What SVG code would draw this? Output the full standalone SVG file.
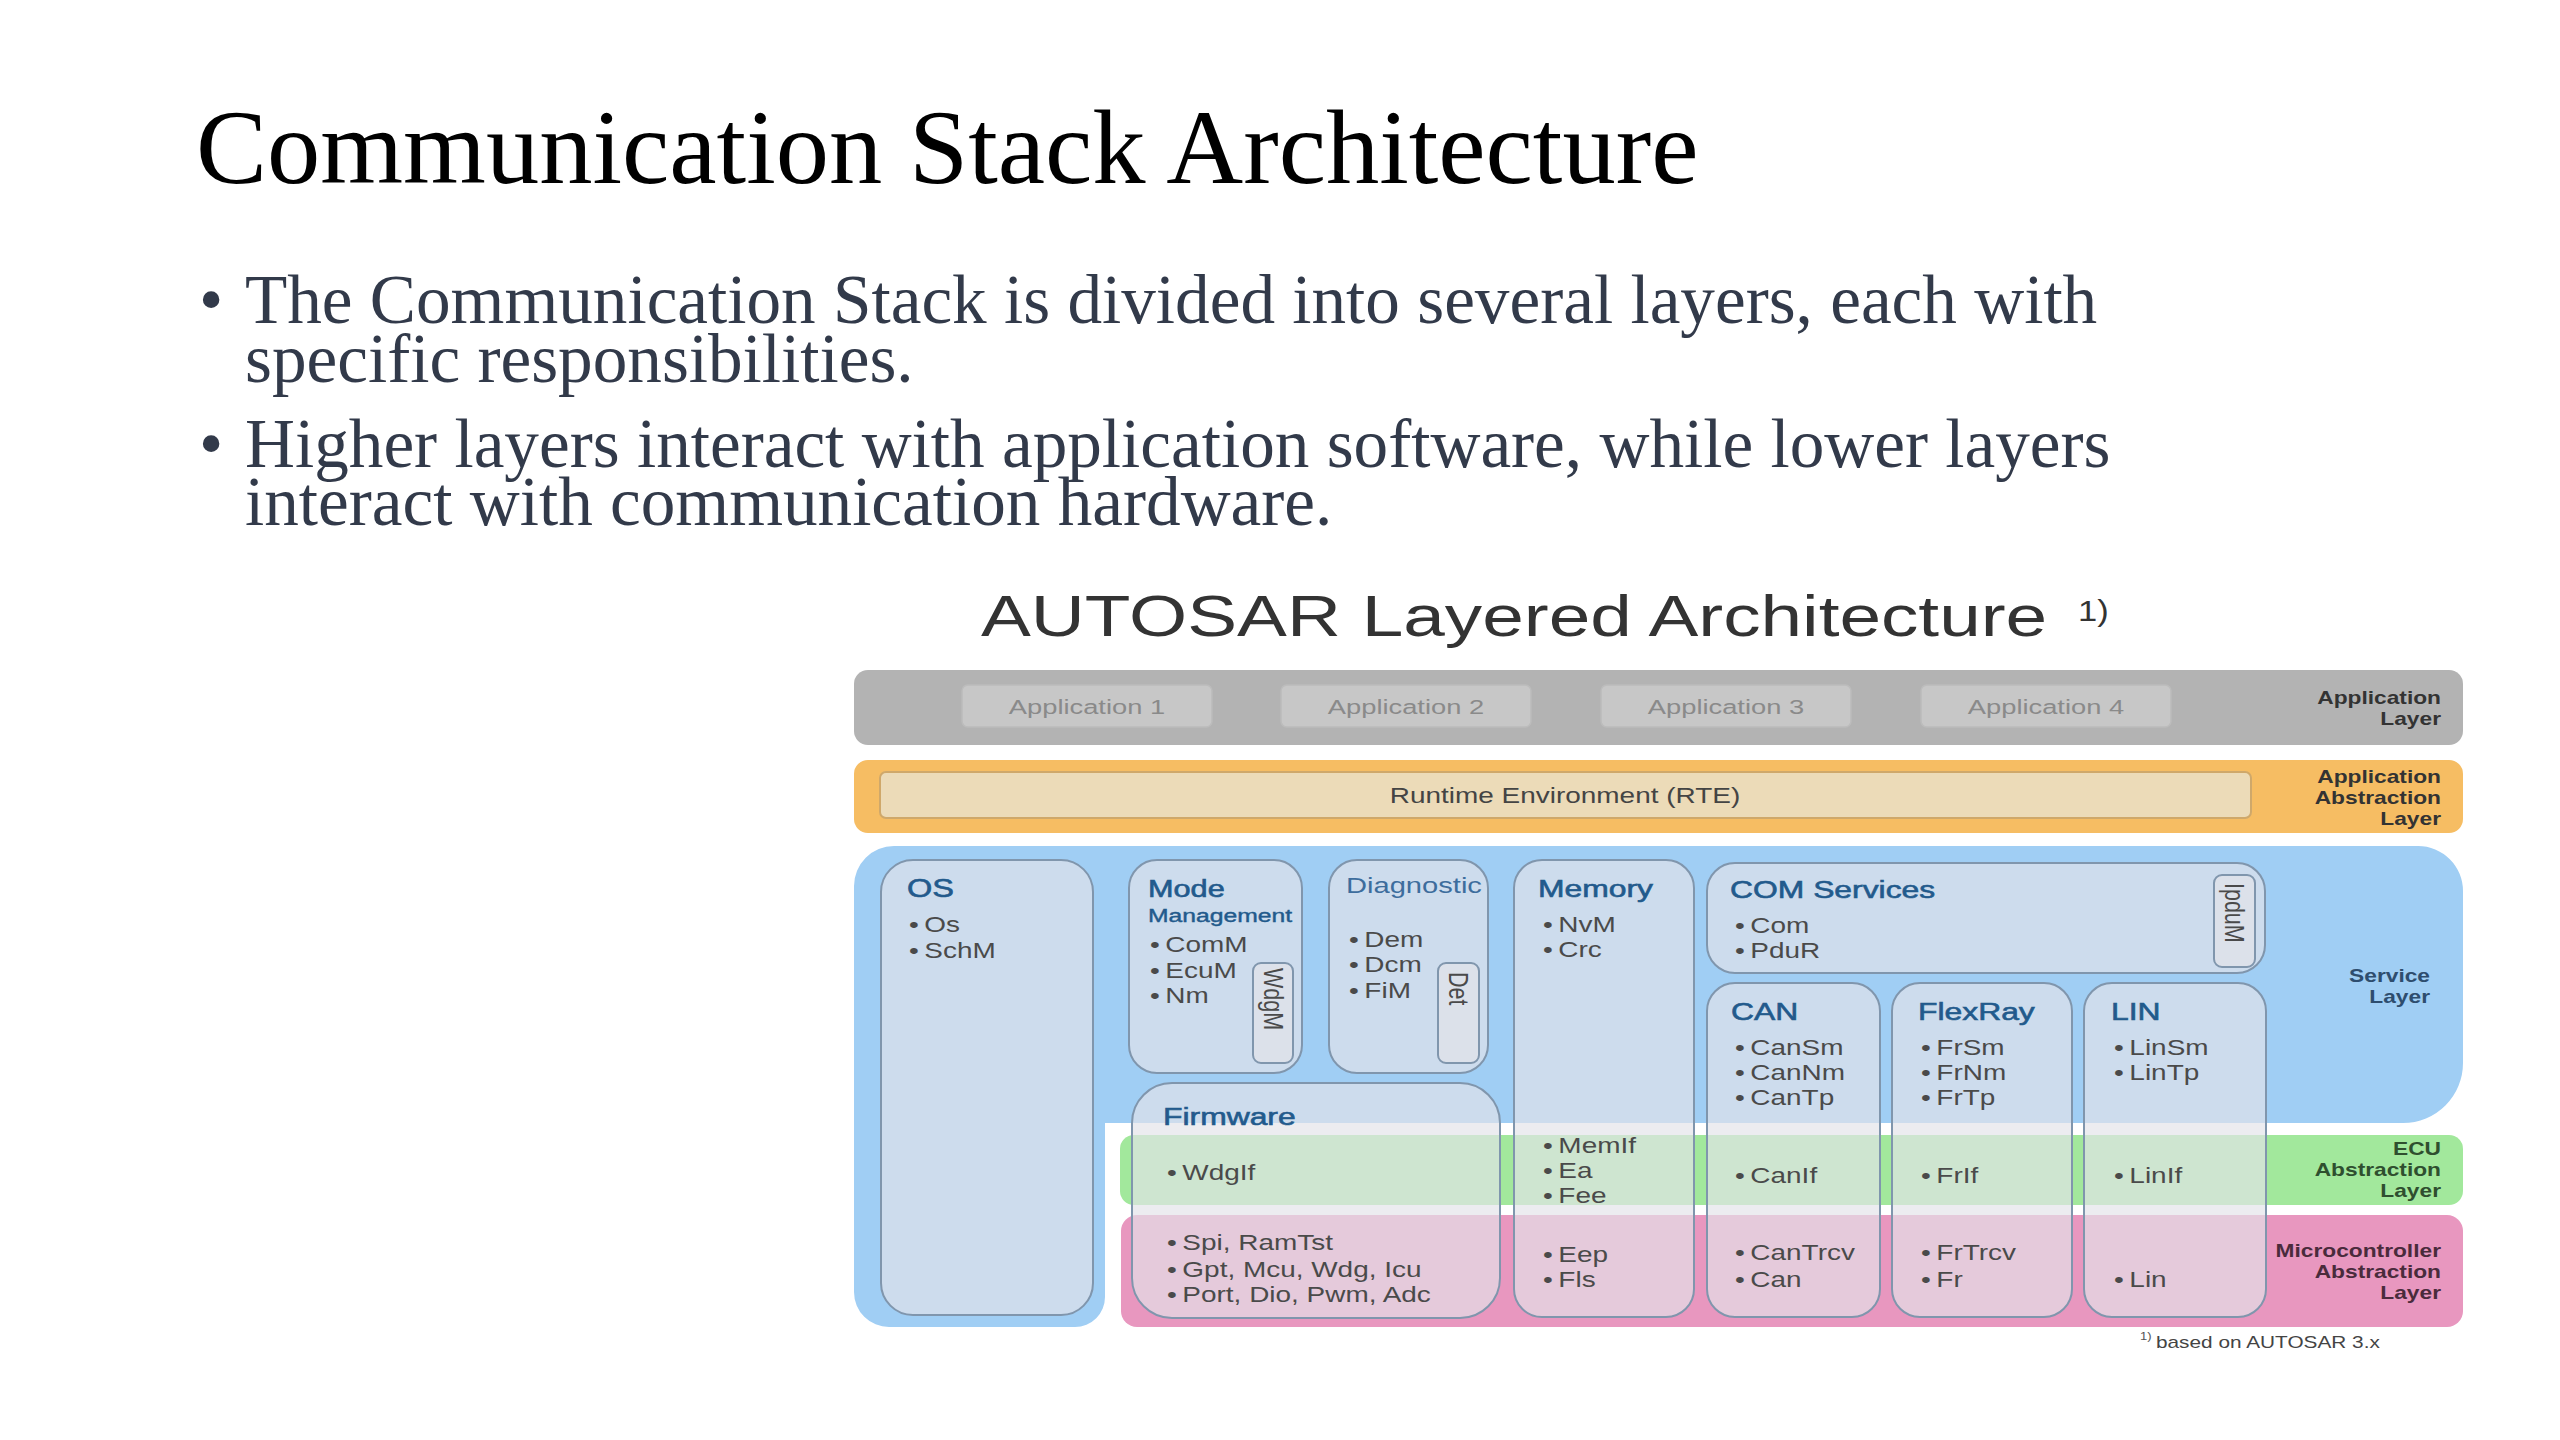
<svg xmlns="http://www.w3.org/2000/svg" width="2560" height="1440" viewBox="0 0 2560 1440">
<style>
.serif{font-family:'Liberation Serif','Times New Roman',serif}
.sans{font-family:'Liberation Sans',Arial,Helvetica,sans-serif}
.bt{font-size:69.2px;fill:#323a4a}
.h{font-size:24.5px;fill:#225a8c;stroke:#225a8c;stroke-width:0.6px}
.i{font-size:21.5px;fill:#4a4a4a}
.lbl{font-size:17.5px;font-weight:bold;text-anchor:end}
.box{fill:#e3e3e9;fill-opacity:.68;stroke:#8096ad;stroke-width:2}
.app{fill:#c7c7c7;stroke:#bcbcbc;stroke-width:1.5}
.appt{font-size:21px;fill:#8a8a8a;text-anchor:middle}
</style>
<rect width="2560" height="1440" fill="#ffffff"/>

<g id="slide-title">
<text class="serif" x="196" y="183" font-size="106.5" fill="#000">Communication Stack Architecture</text>
</g>
<g id="bullets">
<text class="serif bt" x="199" y="323">•</text>
<text class="serif bt" x="245" y="323">The Communication Stack is divided into several layers, each with</text>
<text class="serif bt" x="245" y="382">specific responsibilities.</text>
<text class="serif bt" x="199" y="467">•</text>
<text class="serif bt" x="245" y="467">Higher layers interact with application software, while lower layers</text>
<text class="serif bt" x="245" y="525">interact with communication hardware.</text>
</g>

<g id="diagram-title">
<text class="sans" transform="translate(981,636) scale(1.3,1)" font-size="57.5" fill="#333">AUTOSAR Layered Architecture</text>
<text class="sans" transform="translate(2078,621) scale(1.15,1)" font-size="30" fill="#333">1)</text>
</g>

<g id="layer-application">
<rect x="854" y="670" width="1609" height="75" rx="14" fill="#b3b3b3"/>
<g id="app1"><rect class="app" x="962" y="685" width="250" height="42" rx="6"/><text class="sans appt" transform="translate(1087,714) scale(1.3,1)">Application 1</text></g>
<g id="app2"><rect class="app" x="1281" y="685" width="250" height="42" rx="6"/><text class="sans appt" transform="translate(1406,714) scale(1.3,1)">Application 2</text></g>
<g id="app3"><rect class="app" x="1601" y="685" width="250" height="42" rx="6"/><text class="sans appt" transform="translate(1726,714) scale(1.3,1)">Application 3</text></g>
<g id="app4"><rect class="app" x="1921" y="685" width="250" height="42" rx="6"/><text class="sans appt" transform="translate(2046,714) scale(1.3,1)">Application 4</text></g>
<text class="sans lbl" fill="#333" transform="translate(2441,704) scale(1.3,1)"><tspan x="0" y="0">Application</tspan><tspan x="0" y="21">Layer</tspan></text>
</g>

<g id="layer-rte">
<rect x="854" y="760" width="1609" height="73" rx="14" fill="#f6bd63"/>
<g id="rte"><rect x="880" y="772" width="1371" height="46" rx="6" fill="#ecdbb8" stroke="#cfa86a" stroke-width="2"/>
<text class="sans" transform="translate(1565,803) scale(1.3,1)" font-size="21.5" fill="#444" text-anchor="middle">Runtime Environment (RTE)</text></g>
<text class="sans lbl" fill="#333" transform="translate(2441,783) scale(1.3,1)"><tspan x="0" y="0">Application</tspan><tspan x="0" y="21">Abstraction</tspan><tspan x="0" y="42">Layer</tspan></text>
</g>

<g id="layer-service">
<path d="M894 846 H2418 A45 45 0 0 1 2463 891 V1063 A60 60 0 0 1 2403 1123 H1105 V1297 A30 30 0 0 1 1075 1327 H889 A35 35 0 0 1 854 1292 V886 A40 40 0 0 1 894 846 Z" fill="#a0cef4"/>
<text class="sans lbl" fill="#2e4d6e" transform="translate(2430,982) scale(1.3,1)"><tspan x="0" y="0">Service</tspan><tspan x="0" y="21">Layer</tspan></text>
</g>
<g id="layer-ecu">
<rect x="1120" y="1135" width="1343" height="70" rx="14" fill="#a2e89c"/>
<text class="sans lbl" fill="#2f4f2f" transform="translate(2441,1155) scale(1.3,1)"><tspan x="0" y="0">ECU</tspan><tspan x="0" y="21">Abstraction</tspan><tspan x="0" y="42">Layer</tspan></text>
</g>
<g id="layer-mcal">
<rect x="1121" y="1215" width="1342" height="112" rx="16" fill="#e897bf"/>
<text class="sans lbl" fill="#4a2b3c" transform="translate(2441,1257) scale(1.3,1)"><tspan x="0" y="0">Microcontroller</tspan><tspan x="0" y="21">Abstraction</tspan><tspan x="0" y="42">Layer</tspan></text>
</g>

<g id="connectors"></g>

<g id="os">
<rect class="box" x="881" y="860" width="212" height="455" rx="32"/>
<text class="sans h" transform="translate(907,897) scale(1.3,1)" style="font-size:25px">OS</text>
<text class="sans i" transform="translate(909,932) scale(1.3,1)"><tspan x="0" y="0">•&#x2009;Os</tspan><tspan x="0" y="26">•&#x2009;SchM</tspan></text>
</g>

<g id="mode-management">
<rect class="box" x="1129" y="860" width="173" height="213" rx="28"/>
<text class="sans h" transform="translate(1148,897) scale(1.3,1)" style="font-size:23.6px">Mode</text>
<text class="sans h" transform="translate(1148,922) scale(1.3,1)" style="font-size:19px;stroke-width:0.4px">Management</text>
<text class="sans i" transform="translate(1150,952) scale(1.3,1)"><tspan x="0" y="0">•&#x2009;ComM</tspan><tspan x="0" y="26">•&#x2009;EcuM</tspan><tspan x="0" y="51">•&#x2009;Nm</tspan></text>
<g id="wdgm"><rect class="box" x="1253" y="963" width="40" height="100" rx="8"/>
<text class="sans i" transform="translate(1264,968) scale(1.3,1) rotate(90)">WdgM</text></g>
</g>

<g id="diagnostic">
<rect class="box" x="1329" y="860" width="159" height="213" rx="28"/>
<text class="sans h" transform="translate(1346,893) scale(1.3,1)" style="font-size:22.4px;fill:#3d6d9d;stroke:none">Diagnostic</text>
<text class="sans i" transform="translate(1349,947) scale(1.3,1)"><tspan x="0" y="0">•&#x2009;Dem</tspan><tspan x="0" y="25">•&#x2009;Dcm</tspan><tspan x="0" y="51">•&#x2009;FiM</tspan></text>
<g id="det"><rect class="box" x="1438" y="963" width="41" height="100" rx="8"/>
<text class="sans i" transform="translate(1449,972) scale(1.3,1) rotate(90)">Det</text></g>
</g>

<g id="memory">
<rect class="box" x="1514" y="860" width="180" height="457" rx="28"/>
<text class="sans h" transform="translate(1538,897) scale(1.3,1)">Memory</text>
<text class="sans i" transform="translate(1543,932) scale(1.3,1)"><tspan x="0" y="0">•&#x2009;NvM</tspan><tspan x="0" y="25">•&#x2009;Crc</tspan></text>
<text class="sans i" transform="translate(1543,1153) scale(1.3,1)"><tspan x="0" y="0">•&#x2009;MemIf</tspan><tspan x="0" y="25">•&#x2009;Ea</tspan><tspan x="0" y="50">•&#x2009;Fee</tspan><tspan x="0" y="109">•&#x2009;Eep</tspan><tspan x="0" y="134">•&#x2009;Fls</tspan></text>
</g>

<g id="com-services">
<rect class="box" x="1707" y="863" width="558" height="110" rx="28"/>
<text class="sans h" transform="translate(1730,898) scale(1.3,1)">COM Services</text>
<text class="sans i" transform="translate(1735,933) scale(1.3,1)"><tspan x="0" y="0">•&#x2009;Com</tspan><tspan x="0" y="25">•&#x2009;PduR</tspan></text>
<g id="ipdum"><rect class="box" x="2214" y="875" width="41" height="92" rx="8"/>
<text class="sans i" transform="translate(2225,883) scale(1.3,1) rotate(90)">IpduM</text></g>
</g>

<g id="can">
<rect class="box" x="1707" y="983" width="173" height="334" rx="28"/>
<text class="sans h" transform="translate(1731,1020) scale(1.3,1)">CAN</text>
<text class="sans i" transform="translate(1735,1055) scale(1.3,1)"><tspan x="0" y="0">•&#x2009;CanSm</tspan><tspan x="0" y="25">•&#x2009;CanNm</tspan><tspan x="0" y="50">•&#x2009;CanTp</tspan><tspan x="0" y="128">•&#x2009;CanIf</tspan><tspan x="0" y="205">•&#x2009;CanTrcv</tspan><tspan x="0" y="232">•&#x2009;Can</tspan></text>
</g>

<g id="flexray">
<rect class="box" x="1892" y="983" width="180" height="334" rx="28"/>
<text class="sans h" transform="translate(1918,1020) scale(1.3,1)">FlexRay</text>
<text class="sans i" transform="translate(1921,1055) scale(1.3,1)"><tspan x="0" y="0">•&#x2009;FrSm</tspan><tspan x="0" y="25">•&#x2009;FrNm</tspan><tspan x="0" y="50">•&#x2009;FrTp</tspan><tspan x="0" y="128">•&#x2009;FrIf</tspan><tspan x="0" y="205">•&#x2009;FrTrcv</tspan><tspan x="0" y="232">•&#x2009;Fr</tspan></text>
</g>

<g id="lin">
<rect class="box" x="2084" y="983" width="182" height="334" rx="28"/>
<text class="sans h" transform="translate(2111,1020) scale(1.3,1)">LIN</text>
<text class="sans i" transform="translate(2114,1055) scale(1.3,1)"><tspan x="0" y="0">•&#x2009;LinSm</tspan><tspan x="0" y="25">•&#x2009;LinTp</tspan><tspan x="0" y="128">•&#x2009;LinIf</tspan><tspan x="0" y="232">•&#x2009;Lin</tspan></text>
</g>

<g id="firmware">
<rect class="box" x="1132" y="1083" width="368" height="235" rx="40"/>
<text class="sans h" transform="translate(1163,1125) scale(1.3,1)">Firmware</text>
<text class="sans i" transform="translate(1167,1180) scale(1.3,1)"><tspan x="0" y="0">•&#x2009;WdgIf</tspan><tspan x="0" y="70">•&#x2009;Spi, RamTst</tspan><tspan x="0" y="97">•&#x2009;Gpt, Mcu, Wdg, Icu</tspan><tspan x="0" y="122">•&#x2009;Port, Dio, Pwm, Adc</tspan></text>
</g>

<g id="footnote">
<text class="sans" transform="translate(2140,1340) scale(1.3,1)" font-size="10" fill="#555">1)</text>
<text class="sans" transform="translate(2156,1348) scale(1.3,1)" font-size="16" fill="#444">based on AUTOSAR 3.x</text>
</g>
</svg>
